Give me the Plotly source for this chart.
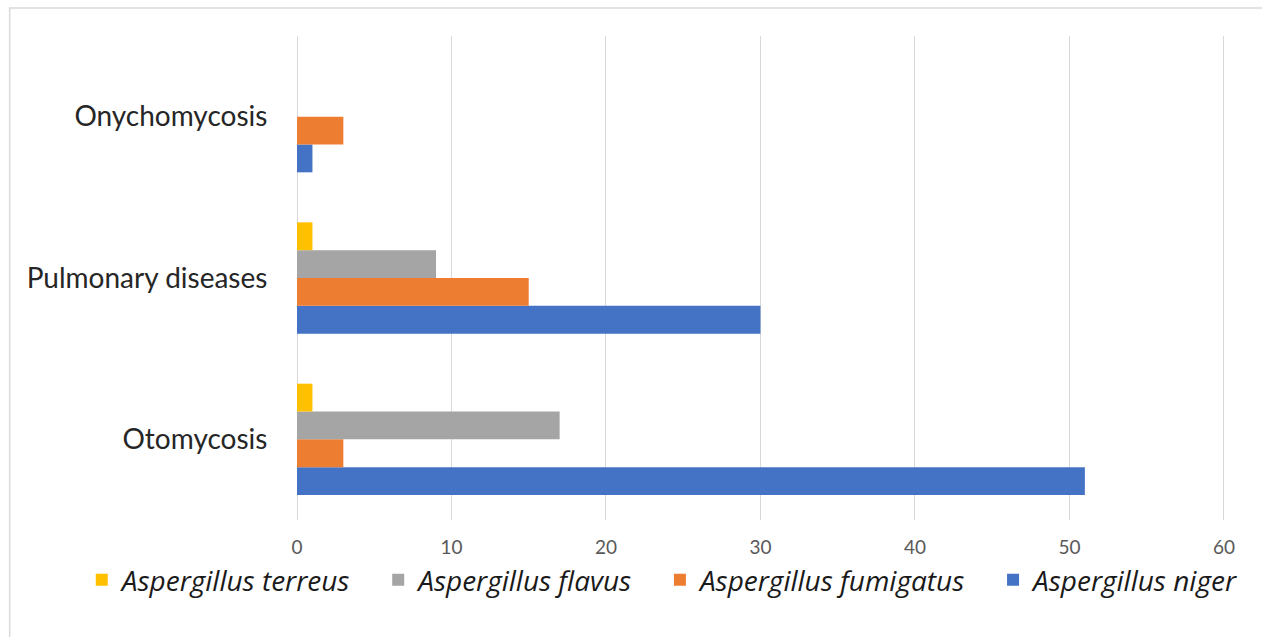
import plotly.graph_objects as go

categories = ["Otomycosis", "Pulmonary diseases", "Onychomycosis"]
series_names = ["Aspergillus niger", "Aspergillus fumigatus", "Aspergillus flavus", "Aspergillus terreus"]
niger = [51, 30, 1]
fumigatus = [3, 15, 3]
flavus = [17, 9, 0]
terreus = [1, 1, 0]
colors = ["#4472C4", "#ED7D31", "#A5A5A5", "#FFC000"]
x_ticks = [0, 10, 20, 30, 40, 50, 60]

W, H = 1262, 637
L, R, T, B = 297, 1224, 36, 520
pw, ph = R - L, B - T

def px_x(v):
    return (v - L) / pw

def px_y(v):
    return (B - v) / ph

PAD = "\u00a0\u00a0\u00a0"

fig = go.Figure()
for i, (name, vals, c) in enumerate(zip(series_names, [niger, fumigatus, flavus, terreus], colors)):
    label = name if i == 0 else name + PAD
    fig.add_trace(go.Bar(
        y=categories, x=vals, name=label, orientation="h",
        marker=dict(color=c, line=dict(width=0)),
    ))

fig.update_layout(
    width=W, height=H,
    margin=dict(l=L, r=W - R - 1, t=T, b=H - B),
    paper_bgcolor="white", plot_bgcolor="white",
    barmode="group", bargap=0.31, bargroupgap=0,
    font=dict(family="Lato, Open Sans, sans-serif", color="#262626"),
    showlegend=True,
    legend=dict(
        orientation="h", traceorder="reversed",
        x=px_x(82), xanchor="left", y=px_y(580), yanchor="middle",
        font=dict(size=28, style="italic", color="#1a1a1a", family="Open Sans, Lato, sans-serif"),
        itemwidth=30, bgcolor="rgba(0,0,0,0)",
    ),
    xaxis=dict(
        range=[0, 60.07], tickvals=x_ticks, showgrid=True, gridcolor="#D9D9D9", gridwidth=1,
        zeroline=True, zerolinecolor="#D9D9D9", zerolinewidth=1, showline=False,
        ticks="outside", ticklen=10, tickcolor="rgba(0,0,0,0)",
        tickfont=dict(size=19, color="#595959"),
        fixedrange=True,
    ),
    yaxis=dict(
        categoryorder="array", categoryarray=categories,
        showgrid=False, zeroline=False, showline=False,
        ticks="outside", ticklen=23, tickcolor="rgba(0,0,0,0)",
        tickfont=dict(size=28, color="#262626"),
        fixedrange=True,
    ),
    shapes=[dict(
        type="rect", xref="paper", yref="paper", layer="below",
        x0=px_x(10), x1=px_x(1275), y0=px_y(650), y1=px_y(8),
        line=dict(color="#D9D9D9", width=1.5), fillcolor="rgba(0,0,0,0)",
    )],
)

fig.write_html("out.html")
